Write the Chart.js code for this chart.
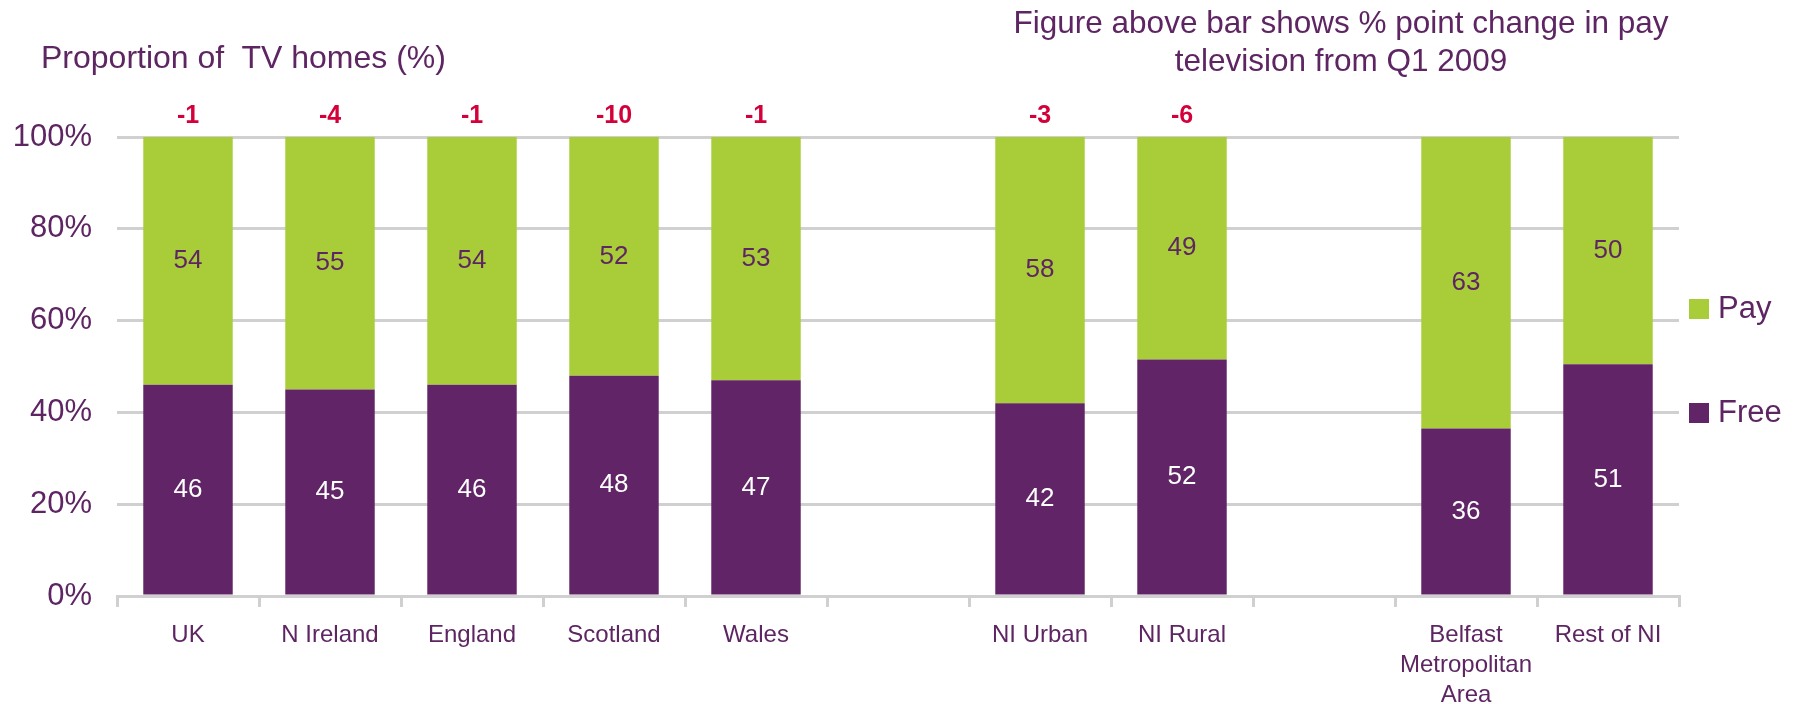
<!DOCTYPE html>
<html>
<head>
<meta charset="utf-8">
<script src="https://cdn.jsdelivr.net/npm/chart.js@4"></script>
<style>
    html, body { margin: 0; padding: 0; background: #ffffff; }
    body { width: 1799px; height: 704px; position: relative; overflow: hidden;
           font-family: "Liberation Sans", Arial, sans-serif; color: #5e2563; }
    #wrap { position: absolute; left: 0; top: 0; width: 1799px; height: 704px; }
    .txt { position: absolute; white-space: nowrap; }
    #leftTitle { left: 41px; top: 38px; font-size: 32px; line-height: 38px; }
    #rightTitle { left: 991px; width: 700px; top: 3px; font-size: 31.5px; line-height: 38px; text-align: center; }
    .leg { position: absolute; left: 1689px; font-size: 31px; line-height: 36px; }
    .leg span { display: inline-block; width: 20px; height: 20px; margin-right: 9px; vertical-align: -1px; }
</style>
</head>
<body>
<div id="wrap"><canvas id="chart" width="1799" height="704"></canvas></div>
<div class="txt" id="leftTitle">Proportion of&nbsp; TV homes (%)</div>
<div class="txt" id="rightTitle">Figure above bar shows % point change in pay<br>television from Q1 2009</div>
<div class="leg" style="top:290px"><span style="background:#a9cd38"></span>Pay</div>
<div class="leg" style="top:394px"><span style="background:#612466"></span>Free</div>

<script>
    /* ===== DADOS ===== */
    const categorias = ["UK", "N Ireland", "England", "Scotland", "Wales", "",
        "NI Urban", "NI Rural", "", ["Belfast", "Metropolitan", "Area"], "Rest of NI"];

    // valores das barras (proporção de lares com TV, %)
    const free = [46, 45, 46, 48, 47, null, 42, 51.5, null, 36.5, 50.5];
    const pay  = [54, 55, 54, 52, 53, null, 58, 48.5, null, 63.5, 49.5];

    // etiquetas tal como aparecem no gráfico
    const freeLabels = ["46", "45", "46", "48", "47", "", "42", "52", "", "36", "51"];
    const payLabels  = ["54", "55", "54", "52", "53", "", "58", "49", "", "63", "50"];

    // variação em pontos percentuais da TV paga desde Q1 2009
    const variacao = ["-1", "-4", "-1", "-10", "-1", "", "-3", "-6", "", "", ""];

    const yTicks = [0, 20, 40, 60, 80, 100];

    /* ===== CORES ===== */
    const corPay = "#a9cd38";
    const corFree = "#612466";
    const corTexto = "#5e2563";
    const corVermelho = "#d4003a";
    const corGrelha = "#d0d0d0";
    const fonte = '"Liberation Sans", Arial, sans-serif';

    /* ===== ETIQUETAS NAS BARRAS ===== */
    const etiquetas = {
        id: "etiquetas",
        afterDatasetsDraw(chart) {
            const ctx = chart.ctx;
            ctx.save();
            ctx.textAlign = "center";
            ctx.textBaseline = "middle";

            const listas = [freeLabels, payLabels];
            const cores = ["#ffffff", corTexto];
            chart.data.datasets.forEach((ds, i) => {
                const meta = chart.getDatasetMeta(i);
                ctx.font = "26px " + fonte;
                ctx.fillStyle = cores[i];
                meta.data.forEach((bar, j) => {
                    if (!listas[i][j]) return;
                    ctx.fillText(listas[i][j], bar.x, (bar.y + bar.base) / 2);
                });
            });

            // variação acima das barras
            const topo = chart.getDatasetMeta(1);
            ctx.font = "bold 25px " + fonte;
            ctx.fillStyle = corVermelho;
            topo.data.forEach((bar, j) => {
                if (!variacao[j]) return;
                ctx.fillText(variacao[j], bar.x, chart.scales.y.getPixelForValue(100) - 21);
            });
            ctx.restore();
        }
    };

    new Chart(document.getElementById("chart"), {
        type: "bar",
        data: {
            labels: categorias,
            datasets: [
                { label: "Free", data: free, backgroundColor: corFree, barPercentage: 0.63, categoryPercentage: 1 },
                { label: "Pay", data: pay, backgroundColor: corPay, barPercentage: 0.63, categoryPercentage: 1 }
            ]
        },
        options: {
            responsive: false,
            animation: false,
            layout: { padding: { top: 137, right: 120, left: 0, bottom: 0 } },
            plugins: { legend: { display: false }, tooltip: { enabled: false } },
            scales: {
                x: {
                    stacked: true,
                    afterFit: s => { s.height = 108; },
                    grid: { display: true, offset: true, drawOnChartArea: false, drawTicks: true,
                            tickLength: 11, color: corGrelha, lineWidth: 3 },
                    border: { display: true, color: corGrelha, width: 3 },
                    ticks: { color: corTexto, font: { family: fonte, size: 24, lineHeight: 1.25 },
                             padding: 13, maxRotation: 0, autoSkip: false }
                },
                y: {
                    stacked: true,
                    min: 0, max: 100,
                    afterFit: s => { s.width = 117; },
                    afterBuildTicks: s => { s.ticks = yTicks.map(v => ({ value: v })); },
                    grid: { color: corGrelha, lineWidth: 3, drawTicks: false },
                    border: { display: false },
                    ticks: { color: corTexto, font: { family: fonte, size: 31 }, padding: 25,
                             callback: v => v + "%" }
                }
            }
        },
        plugins: [etiquetas]
    });
</script>
</body>
</html>
